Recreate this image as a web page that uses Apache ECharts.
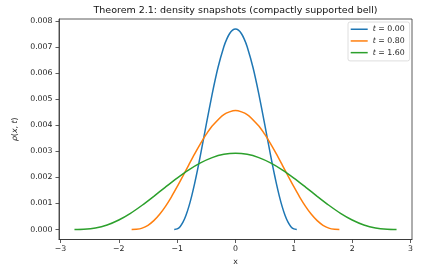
<!DOCTYPE html>
<html>
<head>
<meta charset="utf-8">
<script src="https://cdn.jsdelivr.net/npm/echarts@6/dist/echarts.min.js"></script>
<style>html,body{margin:0;padding:0;background:#fff}#c{width:444px;height:272px}</style>
</head>
<body>
<div id="c"></div>
<script>
const titleText = 'Theorem 2.1: density snapshots (compactly supported bell)';
const seriesNames = ['t = 0.00', 't = 0.80', 't = 1.60'];
const xTicks = [-3, -2, -1, 0, 1, 2, 3];
const yTicks = [0, 0.001, 0.002, 0.003, 0.004, 0.005, 0.006, 0.007, 0.008];

const x0 = [-1.05,-1.0,-0.95,-0.9,-0.85,-0.8,-0.75,-0.7,-0.65,-0.6,-0.55,-0.5,-0.4,-0.3,-0.2,-0.15,-0.1,-0.05,0,
            0.05,0.1,0.15,0.2,0.3,0.4,0.5,0.55,0.6,0.65,0.7,0.75,0.8,0.85,0.9,0.95,1.0,1.05];
const y0 = [0,0.0000203,0.000108,0.000279,0.000537,0.000878,0.001293,0.001771,0.002300,0.002866,0.003453,0.004048,0.005203,0.006223,0.007020,0.007313,0.007527,0.007656,0.0077,
            0.007656,0.007527,0.007313,0.007020,0.006223,0.005203,0.004048,0.003453,0.002866,0.002300,0.001771,0.001293,0.000878,0.000537,0.000279,0.000108,0.0000203,0];

const x1 = [-1.78,-1.7,-1.6,-1.5,-1.4,-1.3,-1.2,-1.1,-1.0,-0.9,-0.8,-0.7,-0.6,-0.5,-0.4,-0.2,0,
            0.2,0.4,0.5,0.6,0.7,0.8,0.9,1.0,1.1,1.2,1.3,1.4,1.5,1.6,1.7,1.78];
const y1 = [0,0.0000064,0.0000531,0.000161,0.000339,0.000583,0.000890,0.001247,0.001642,0.002059,0.002485,0.002904,0.003300,0.003660,0.003973,0.004416,0.00457,
            0.004416,0.003973,0.003660,0.003300,0.002904,0.002485,0.002059,0.001642,0.001247,0.000890,0.000583,0.000339,0.000161,0.0000531,0.0000064,0];

const x2 = [-2.76,-2.6,-2.4,-2.2,-2.0,-1.8,-1.6,-1.4,-1.2,-1.0,-0.8,-0.6,-0.4,-0.2,0,
            0.2,0.4,0.6,0.8,1.0,1.2,1.4,1.6,1.8,2.0,2.2,2.4,2.6,2.76];
const y2 = [0,0.0000065,0.0000563,0.000174,0.000364,0.000621,0.000931,0.001274,0.001630,0.001976,0.002292,0.002559,0.002761,0.002887,0.00293,
            0.002887,0.002761,0.002559,0.002292,0.001976,0.001630,0.001274,0.000931,0.000621,0.000364,0.000174,0.0000563,0.0000065,0];

const colors = ['#1f77b4', '#ff7f0e', '#2ca02c'];
const FONT = 'DejaVu Sans';
const FS = 7.8;
const zip = (xs, ys) => xs.map((x, i) => [x, ys[i]]);
const allData = [zip(x0, y0), zip(x1, y1), zip(x2, y2)];

const chart = echarts.init(document.getElementById('c'), null, {renderer: 'canvas'});
const axisCol = '#333';
chart.setOption({
  animation: false,
  color: colors,
  textStyle: {fontFamily: FONT},
  grid: {left: 59, right: 32, top: 19, bottom: 32.5, show: true, borderColor: axisCol, borderWidth: 0.8, backgroundColor: 'transparent'},
  graphic: [{
    type: 'text', x: 235.5, y: 11,
    style: {text: titleText, font: '9.5px "DejaVu Sans"', fill: '#111', textAlign: 'center', textVerticalAlign: 'middle'}
  }],
  xAxis: {
    type: 'value', min: -3.025, max: 3.025,
    name: 'x', nameLocation: 'middle', nameGap: 16,
    nameTextStyle: {fontSize: FS, color: '#222', fontFamily: FONT},
    axisLine: {show: true, onZero: false, lineStyle: {color: axisCol, width: 0.8}},
    axisTick: {show: true, length: 3.5, customValues: xTicks, lineStyle: {color: axisCol, width: 0.8}},
    axisLabel: {customValues: xTicks, fontSize: FS, color: '#222', margin: 5.5, fontFamily: FONT,
                formatter: v => (v < 0 ? '\u2212' + Math.abs(v) : String(v))},
    splitLine: {show: false}
  },
  yAxis: {
    type: 'value', min: -0.000385, max: 0.008085,
    name: '{i|ρ}({i|x}, {i|t})', nameLocation: 'middle', nameGap: 31, nameRotate: 90,
    nameTextStyle: {fontSize: FS, color: '#222', fontFamily: FONT, rich: {i: {fontStyle: 'italic', fontSize: FS, color: '#222', fontFamily: FONT}}},
    axisLine: {show: true, onZero: false, lineStyle: {color: axisCol, width: 0.8}},
    axisTick: {show: true, length: 3.5, customValues: yTicks, lineStyle: {color: axisCol, width: 0.8}},
    axisLabel: {customValues: yTicks, fontSize: FS, color: '#222', margin: 6.5, fontFamily: FONT,
                formatter: v => v.toFixed(3)},
    splitLine: {show: false}
  },
  legend: {
    orient: 'vertical', left: 348, top: 22,
    padding: [3, 5, 4, 2.7],
    itemWidth: 17, itemHeight: 1.5, itemGap: 3.2,
    icon: 'rect', itemTextGap: 6,
    borderColor: '#d5d5d5', borderWidth: 0.8, borderRadius: 2, backgroundColor: 'rgba(255,255,255,0.8)',
    data: seriesNames,
    formatter: n => '{i|t}' + n.slice(1),
    textStyle: {fontSize: FS, lineHeight: 8.5, color: '#222', fontFamily: FONT,
                rich: {i: {fontStyle: 'italic', fontSize: FS, lineHeight: 8.5, color: '#222', fontFamily: FONT}}}
  },
  series: seriesNames.map((n, i) => ({
    name: n, type: 'line', data: allData[i], smooth: 0.25, showSymbol: false, symbol: 'none',
    lineStyle: {width: 1.5, color: colors[i]}, itemStyle: {color: colors[i]}, z: 2 + i
  }))
});
</script>
</body>
</html>
